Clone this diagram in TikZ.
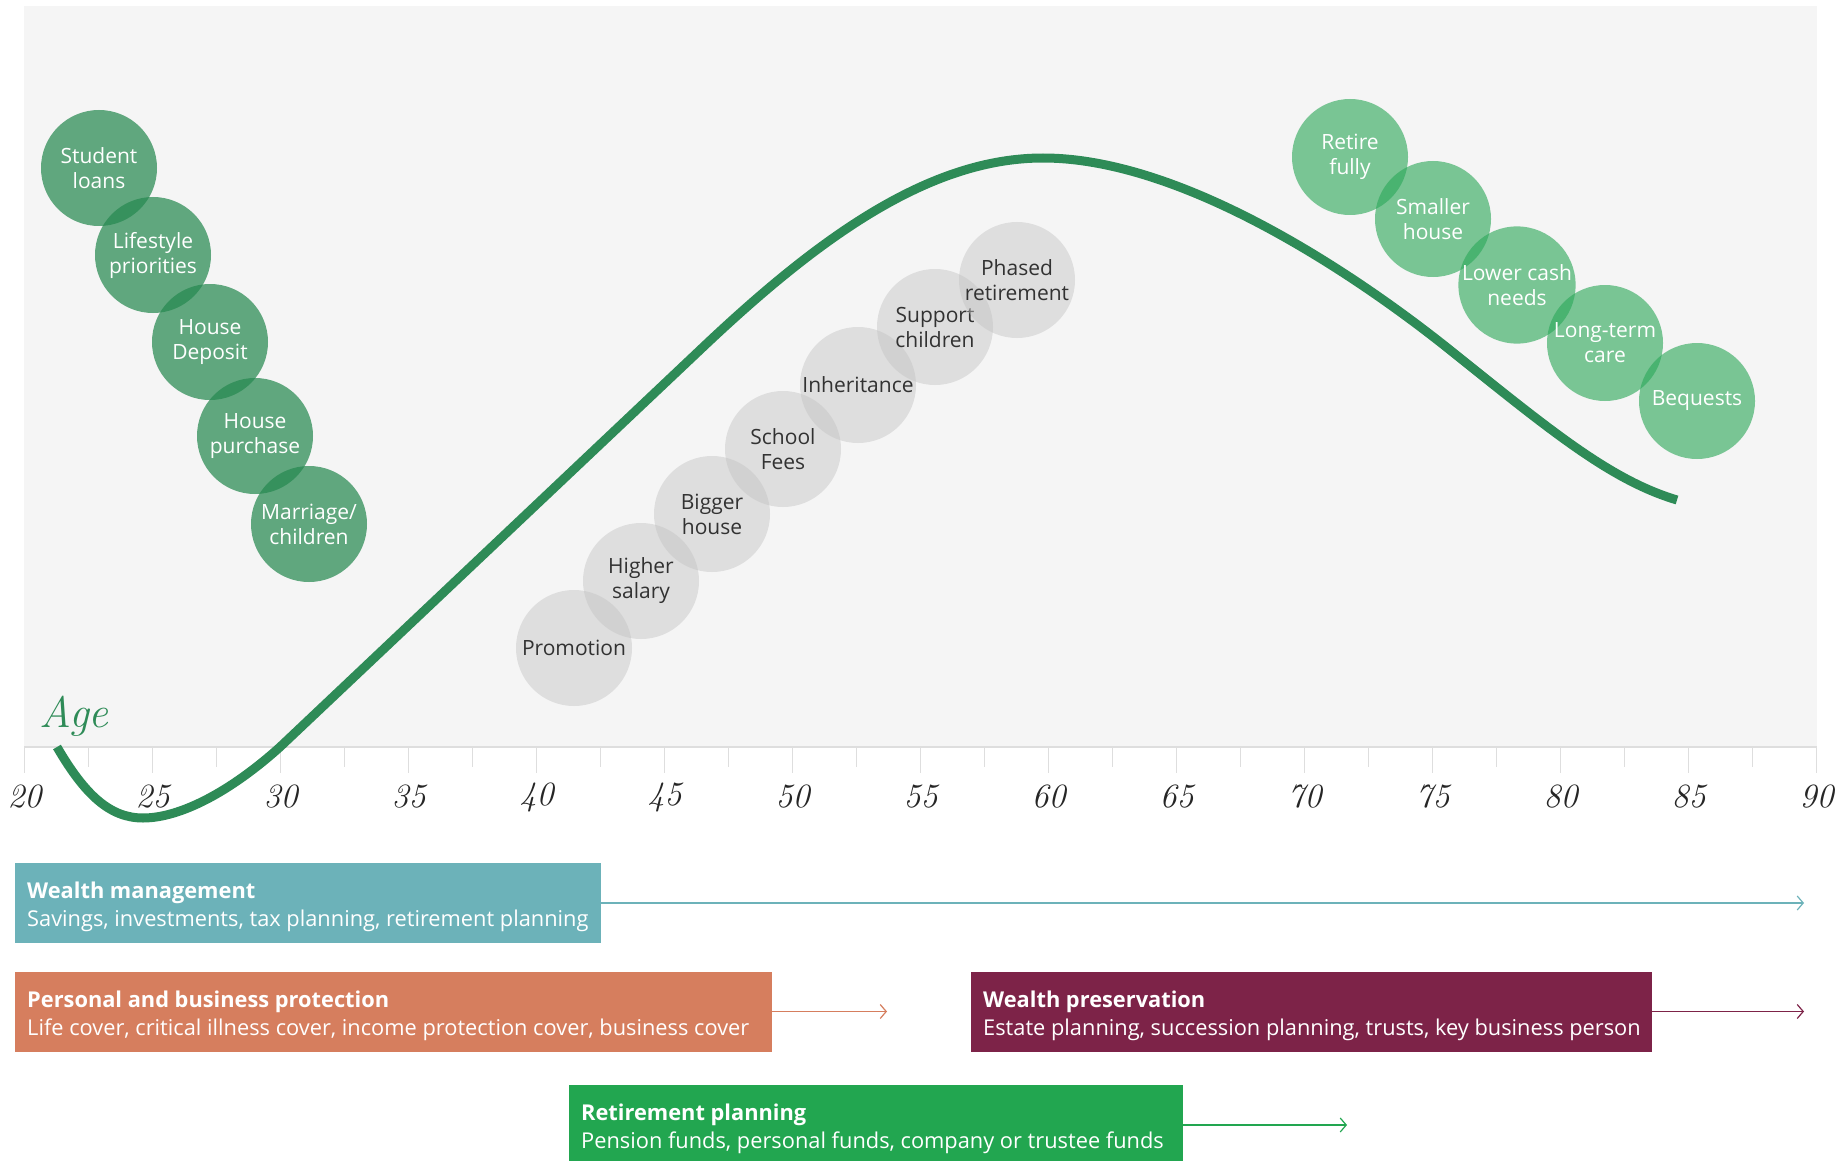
\documentclass[tikz,border=0pt]{standalone}
\usepackage{fontspec}
\newfontfamily\opensans{Open Sans}
\usetikzlibrary{arrows.meta}
\usetikzlibrary{positioning}

\definecolor{curvegreen}{RGB}{46,139,87}
\definecolor{darkgreen}{RGB}{39,137,81}
\definecolor{lightgreen}{RGB}{45,168,90}
\definecolor{bubblegrey}{RGB}{195,195,195}
\definecolor{bubbletext}{RGB}{50,50,50}
\definecolor{panelgrey}{RGB}{245,245,245}
\definecolor{axisgrey}{RGB}{222,222,222}
\definecolor{wmteal}{RGB}{108,178,185}
\definecolor{pbporange}{RGB}{214,126,94}
\definecolor{wpmaroon}{RGB}{125,35,72}
\definecolor{rpgreen}{RGB}{34,166,80}

\tikzset{
  bubble/.style={circle,minimum size=116,inner sep=0pt,align=center,text opacity=1,
    font=\opensans\fontsize{21}{25}\selectfont},
  early/.style={bubble,fill=darkgreen,fill opacity=0.72,text=white},
  middle/.style={bubble,fill=bubblegrey,fill opacity=0.45,text=bubbletext},
  late/.style={bubble,fill=lightgreen,fill opacity=0.62,text=white},
  planbox/.style={anchor=west,minimum height=80,inner sep=0pt},
  plantext/.style={inner xsep=12pt,inner ysep=0pt,align=left,yshift=-4pt,
    text=white,font=\opensans\fontsize{21.8}{28}\selectfont},
  link/.style={line width=1.2pt,-{Straight Barb[length=6pt,width=14pt]}},
  agelabel/.style={font=\fontsize{34}{34}\selectfont\itshape,text=black!85}
}

\begin{document}
\begin{tikzpicture}[x=1pt,y=-1pt]
\useasboundingbox (0,0) rectangle (1837,1161);
\fill[white] (0,0) rectangle (1837,1161);

% chart area and age axis
\fill[panelgrey] (24,6) rectangle (1817,747);
\draw[axisgrey,line width=1.5pt] (24,747) -- (1817,747);
\foreach \i in {0,2,...,28} \draw[axisgrey,line width=1.2pt] ({24.5+64*\i},747) -- ++(0,26);
\foreach \i in {1,3,...,27} \draw[axisgrey,line width=1.2pt] ({24.5+64*\i},747) -- ++(0,20);
\foreach \a [count=\i from 0] in {20,25,...,90}
  \node[agelabel] (age\a) at ({24.5+128*\i},797) {\a};
\node[font=\fontsize{44}{44}\selectfont\itshape,text=curvegreen] (agetitle) at (74,716) {Age};

% wealth curve
\draw[curvegreen,line width=9pt] (57,747) .. controls (85,795) and (110,818) .. (143,818)
  .. controls (180,818) and (230,792) .. (280,747)
  -- (700,350)
  .. controls (820,236) and (930,158) .. (1043,158)
  .. controls (1180,158) and (1350,270) .. (1450,350)
  .. controls (1550,430) and (1610,480) .. (1677,500);

% early life events
\node[early] (loans) at (99,168) {Student\\loans};
\node[early] (lifestyle) at (153,255) {Lifestyle\\priorities};
\node[early] (deposit) at (210,342) {House\\Deposit};
\node[early] (purchase) at (255,436) {House\\purchase};
\node[early] (marriage) at (309,524) {Marriage/\\children};

% working life events
\node[middle] (promotion) at (574,648) {Promotion};
\node[middle] (salary) at (641,581) {Higher\\salary};
\node[middle] (bigger) at (712,514) {Bigger\\house};
\node[middle] (school) at (783,449) {School\\Fees};
\node[middle] (inherit) at (858,385) {Inheritance};
\node[middle] (support) at (935,327) {Support\\children};
\node[middle] (phased) at (1017,280) {Phased\\retirement};

% later life events
\node[late] (retire) at (1350,157) {Retire\\fully};
\node[late] (smaller) at (1433,219) {Smaller\\house};
\node[late] (cash) at (1517,285) {Lower cash\\needs};
\node[late] (care) at (1605,343) {Long-term\\care};
\node[late] (bequests) at (1697,401) {Bequests};

% planning areas
\node[planbox,fill=wmteal,minimum width=586] (wm) at (15,903) {};
\node[planbox,fill=pbporange,minimum width=757] (pbp) at (15,1011.5) {};
\node[planbox,fill=wpmaroon,minimum width=681] (wp) at (971,1011.5) {};
\node[planbox,fill=rpgreen,minimum width=614] (rp) at (569,1125) {};

\node[plantext,right=0pt of wm.west] (wmtext)
  {\textbf{Wealth management}\\Savings, investments, tax planning, retirement planning};
\node[plantext,right=0pt of pbp.west] (pbptext)
  {\textbf{Personal and business protection}\\Life cover, critical illness cover, income protection cover, business cover};
\node[plantext,right=0pt of wp.west] (wptext)
  {\textbf{Wealth preservation}\\Estate planning, succession planning, trusts, key business person};
\node[plantext,right=0pt of rp.west] (rptext)
  {\textbf{Retirement planning}\\Pension funds, personal funds, company or trustee funds};

\coordinate (wmend) at (1804,903);
\coordinate (pbpend) at (887,1011.5);
\coordinate (wpend) at (1804,1011.5);
\coordinate (rpend) at (1347,1125);
\draw[link,wmteal] (wm.east) -- (wmend);
\draw[link,pbporange] (pbp.east) -- (pbpend);
\draw[link,wpmaroon] (wp.east) -- (wpend);
\draw[link,rpgreen] (rp.east) -- (rpend);

\end{tikzpicture}
\end{document}
